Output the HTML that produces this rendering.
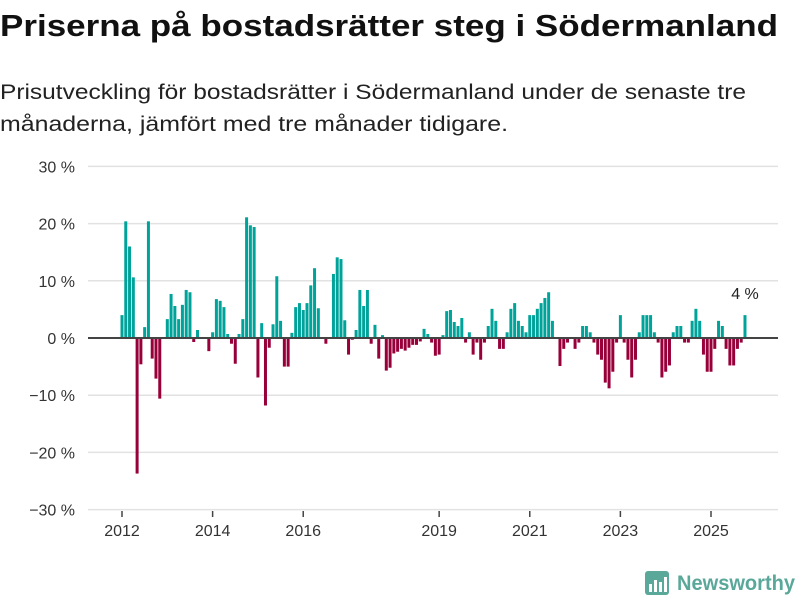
<!DOCTYPE html>
<html><head><meta charset="utf-8"><style>
body{margin:0;background:#fff;}
svg{display:block;font-family:"Liberation Sans",sans-serif;}
</style></head><body>
<svg id="chart" width="800" height="600" viewBox="0 0 800 600">
<text x="0" y="36" font-size="31" font-weight="bold" fill="#111" textLength="778" lengthAdjust="spacingAndGlyphs">Priserna på bostadsrätter steg i Södermanland</text>
<text x="0" y="99" font-size="21" fill="#222" textLength="746" lengthAdjust="spacingAndGlyphs">Prisutveckling för bostadsrätter i Södermanland under de senaste tre</text>
<text x="0" y="131" font-size="21" fill="#222" textLength="508" lengthAdjust="spacingAndGlyphs">månaderna, jämfört med tre månader tidigare.</text>
<g id="grid"></g><g id="bars"></g><g id="axis"></g>
<g>
<rect x="645" y="571" width="24" height="24" rx="3" fill="#5aa89a"/>
<rect x="649" y="584" width="3" height="8" fill="#fff"/><rect x="654" y="580" width="3" height="12" fill="#fff"/><rect x="659" y="582" width="3" height="10" fill="#fff"/><rect x="664" y="577" width="3" height="15" fill="#fff"/>
<text x="677" y="590" font-size="21" font-weight="bold" fill="#5aa89a" textLength="118" lengthAdjust="spacingAndGlyphs">Newsworthy</text>
</g>
</svg>
<script>
const yTicks=[30,20,10,0,-10,-20,-30];
const yTickLabels=["30 %","20 %","10 %","0 %","−10 %","−20 %","−30 %"];
const xTickYears=[2012,2014,2016,2019,2021,2023,2025];
const startYear=2012;
const values=[4.0,20.4,16.0,10.6,-23.7,-4.6,1.9,20.4,-3.6,-7.1,-10.6,null,
3.3,7.7,5.6,3.3,5.8,8.4,8.0,-0.7,1.4,null,null,-2.3,
1.0,6.8,6.5,5.4,0.7,-1.0,-4.5,0.7,3.3,21.1,19.7,19.4,
-6.9,2.6,-11.8,-1.7,2.4,10.8,3.0,-5.0,-5.0,0.9,5.4,6.1,
4.9,6.1,9.2,12.2,5.2,null,-1.0,null,11.2,14.1,13.8,3.1,
-2.9,-0.3,1.4,8.4,5.6,8.4,-1.0,2.3,-3.6,0.5,-5.7,-5.2,
-2.7,-2.4,-1.9,-2.2,-1.7,-1.2,-1.2,-0.6,1.6,0.7,-0.8,-3.1,
-2.9,0.5,4.7,4.9,2.8,2.1,3.5,-0.8,1.0,-2.9,-0.8,-3.8,
-0.8,2.1,5.1,3.0,-1.9,-1.9,1.0,5.1,6.1,3.0,2.1,1.0,
4.0,4.0,5.1,6.1,7.0,8.0,3.0,null,-4.9,-1.9,-0.8,null,
-1.9,-0.8,2.1,2.1,1.0,-0.8,-2.9,-3.8,-7.8,-8.8,-5.9,-0.8,
4.0,-0.8,-3.8,-6.9,-3.8,1.0,4.0,4.0,4.0,1.0,-0.8,-6.9,
-5.9,-4.8,1.0,2.1,2.1,-0.8,-0.8,3.0,5.1,3.0,-2.9,-5.9,
-5.9,-1.9,3.0,2.1,-1.9,-4.8,-4.8,-1.9,-0.8,4.0];
const lastLabel="4 %";
const NS="http://www.w3.org/2000/svg";
function y(v){return 338-v*5.72;}
function x(m){return 122+m*(589/156);}
function mk(tag,attrs,parent){const e=document.createElementNS(NS,tag);for(const k in attrs)e.setAttribute(k,attrs[k]);parent.appendChild(e);return e;}
const grid=document.getElementById('grid'),bars=document.getElementById('bars'),axis=document.getElementById('axis');
yTicks.forEach((t,i)=>{
 const l=mk('line',{x1:88,x2:778,y1:y(t),y2:y(t),stroke:'#e2e2e2','stroke-width':1.5},grid);
 
 
 const tx=mk('text',{x:75,y:y(t)+6,'text-anchor':'end','font-size':16,fill:'#333'},grid);
 tx.textContent=yTickLabels[i];
 
 
});
values.forEach((v,m)=>{
 if(v===null)return;
 const r=mk('rect',{x:x(m)-1.5,width:3,y:Math.min(y(v),y(0)),height:Math.abs(y(v)-y(0)),fill:v>=0?'#00a39a':'#98003a'},bars);
 
 
});
const zl=mk('line',{x1:88,x2:778,y1:y(0),y2:y(0),stroke:'#444','stroke-width':2},axis);


xTickYears.forEach(yr=>{
 const m=(yr-startYear)*12;
 const t=mk('line',{x1:x(m),x2:x(m),y1:511,y2:517,stroke:'#444','stroke-width':1.5},axis);
 
 
 const tx=mk('text',{x:x(m),y:536,'text-anchor':'middle','font-size':16,fill:'#333'},axis);
 tx.textContent=yr;
 
 
});
const lm=values.length-1;
const lab=mk('text',{x:x(lm),y:y(values[lm])-16,'text-anchor':'middle','font-size':16,fill:'#222'},axis);
lab.textContent=lastLabel;


</script>
</body></html>
